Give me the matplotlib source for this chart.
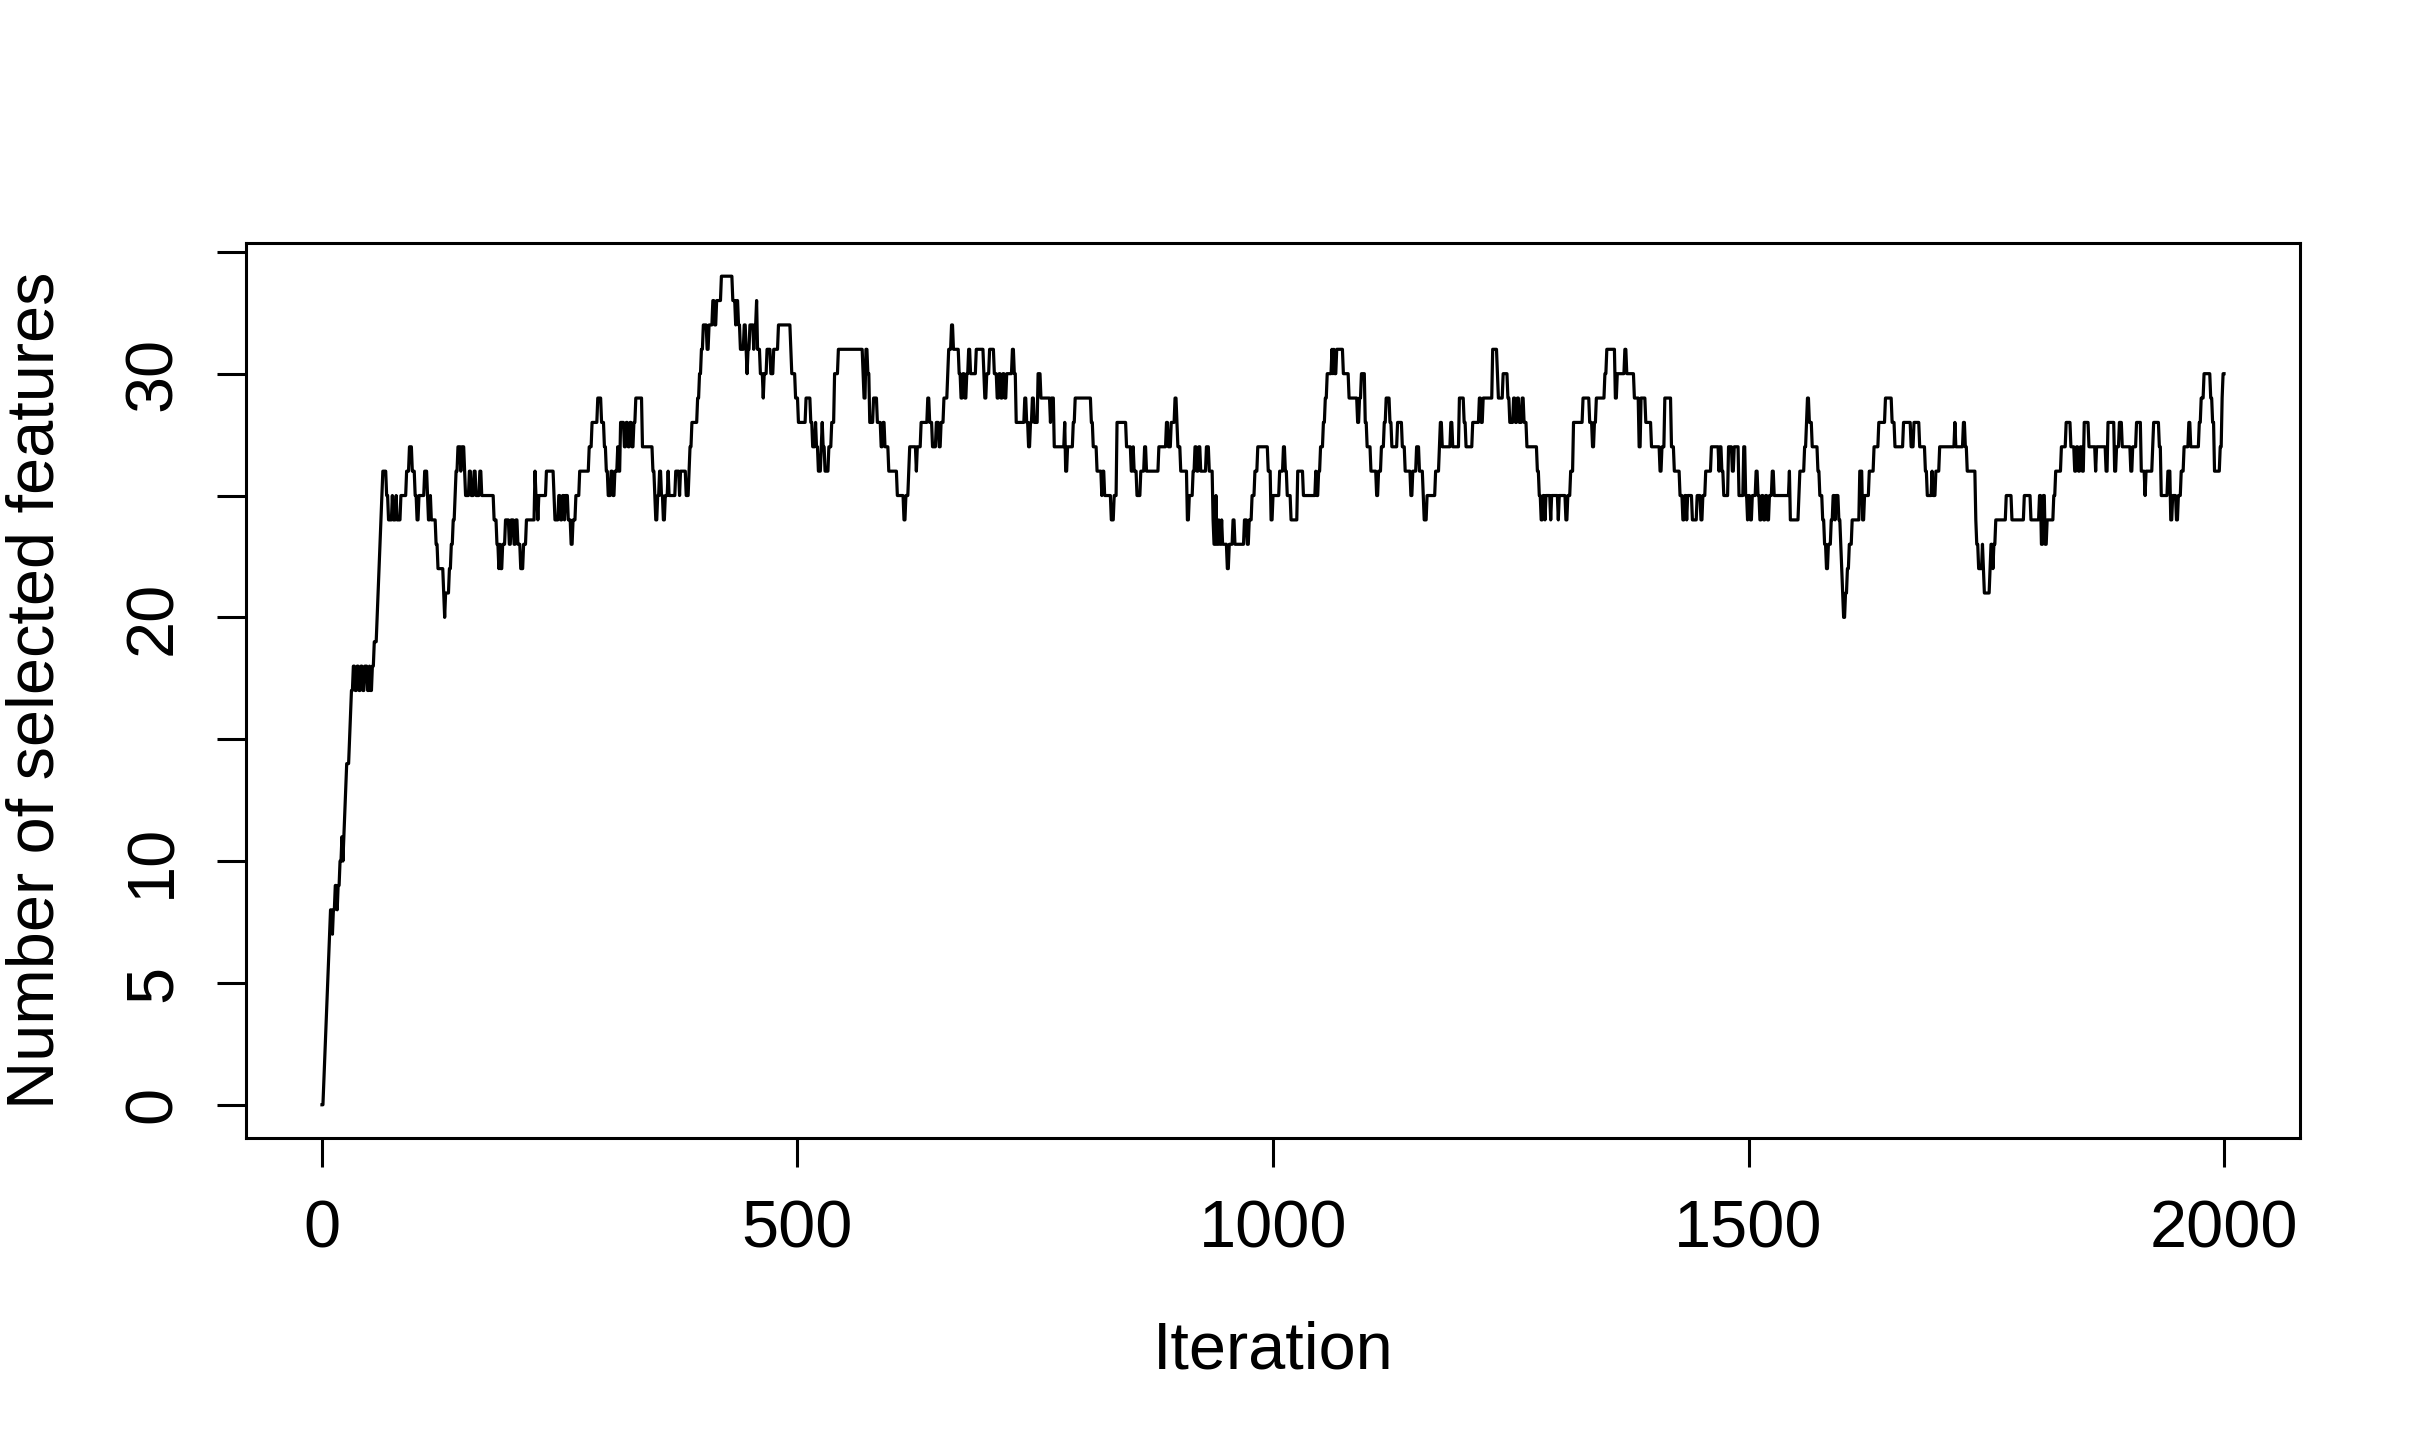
import numpy as np
import matplotlib
matplotlib.use("Agg")
import matplotlib.pyplot as plt

plt.rcParams["font.family"] = ["Liberation Sans", "DejaVu Sans"]

N_ITER = 2001

# iteration where a new value starts, and that value
change_iter = [
    0, 2, 3, 4, 5, 6, 7, 8, 9, 11, 12, 14, 16, 17, 19, 21, 22, 23, 24, 25,
    26, 29, 30, 31, 33, 35, 37, 39, 41, 43, 45, 48, 50, 51, 53, 55, 58, 59, 60, 61,
    62, 63, 64, 68, 70, 74, 75, 78, 79, 83, 89, 92, 95, 98, 100, 102, 108, 111, 112, 114,
    115, 120, 122, 128, 129, 130, 134, 136, 138, 140, 141, 143, 146, 147, 150, 151, 155, 157, 160, 162,
    166, 168, 181, 184, 186, 187, 188, 190, 193, 197, 199, 202, 204, 206, 209, 212, 215, 224, 225, 227,
    228, 236, 244, 245, 249, 251, 253, 255, 256, 259, 262, 264, 267, 271, 281, 284, 290, 294, 297, 299,
    301, 304, 306, 308, 311, 312, 314, 318, 320, 322, 324, 326, 328, 330, 337, 348, 350, 351, 353, 355,
    357, 359, 361, 364, 365, 372, 376, 377, 383, 386, 387, 389, 395, 397, 399, 401, 405, 407, 411, 413,
    415, 420, 432, 435, 436, 438, 440, 444, 446, 447, 448, 450, 454, 455, 457, 458, 461, 464, 465, 468,
    472, 475, 480, 493, 494, 498, 501, 509, 514, 516, 519, 520, 522, 525, 526, 527, 529, 533, 536, 539,
    543, 569, 570, 572, 574, 576, 580, 584, 588, 590, 592, 596, 605, 612, 614, 617, 618, 625, 626, 630,
    637, 639, 642, 646, 649, 651, 654, 658, 659, 662, 664, 670, 672, 674, 676, 678, 680, 682, 688, 696,
    697, 699, 702, 707, 710, 712, 714, 716, 718, 720, 726, 728, 730, 739, 741, 743, 745, 747, 749, 753,
    756, 766, 767, 770, 781, 782, 784, 790, 792, 809, 811, 815, 820, 821, 823, 830, 833, 836, 846, 851,
    853, 854, 857, 861, 865, 867, 880, 888, 890, 893, 897, 899, 900, 903, 910, 912, 916, 918, 920, 922,
    924, 930, 933, 937, 938, 940, 941, 943, 944, 946, 947, 952, 954, 958, 960, 970, 973, 975, 978, 981,
    984, 995, 998, 1000, 1007, 1011, 1013, 1015, 1019, 1026, 1032, 1045, 1046, 1048, 1050, 1053, 1055, 1057, 1062, 1063,
    1064, 1065, 1067, 1074, 1080, 1089, 1091, 1093, 1097, 1099, 1103, 1109, 1111, 1114, 1117, 1119, 1123, 1125, 1131, 1136,
    1139, 1145, 1147, 1151, 1154, 1158, 1159, 1162, 1171, 1175, 1176, 1178, 1187, 1189, 1196, 1201, 1203, 1210, 1217, 1219,
    1221, 1231, 1236, 1237, 1242, 1247, 1249, 1253, 1255, 1257, 1259, 1262, 1264, 1267, 1278, 1280, 1282, 1284, 1286, 1287,
    1292, 1293, 1300, 1301, 1308, 1310, 1313, 1316, 1326, 1333, 1336, 1338, 1340, 1349, 1351, 1360, 1362, 1370, 1372, 1380,
    1385, 1387, 1392, 1398, 1407, 1409, 1412, 1419, 1422, 1428, 1431, 1433, 1435, 1436, 1441, 1446, 1450, 1452, 1455, 1461,
    1469, 1470, 1472, 1474, 1479, 1483, 1485, 1490, 1495, 1497, 1499, 1500, 1502, 1504, 1508, 1510, 1512, 1514, 1516, 1518,
    1520, 1522, 1525, 1527, 1543, 1544, 1553, 1554, 1559, 1561, 1562, 1564, 1567, 1573, 1575, 1578, 1580, 1582, 1584, 1587,
    1589, 1591, 1592, 1595, 1597, 1598, 1599, 1600, 1602, 1604, 1606, 1609, 1617, 1620, 1622, 1627, 1632, 1637, 1644, 1651,
    1654, 1663, 1671, 1674, 1680, 1686, 1688, 1693, 1694, 1697, 1701, 1717, 1718, 1726, 1728, 1730, 1739, 1740, 1742, 1746,
    1747, 1748, 1754, 1755, 1757, 1758, 1760, 1771, 1777, 1790, 1797, 1806, 1808, 1810, 1812, 1814, 1821, 1823, 1829, 1834,
    1839, 1843, 1845, 1847, 1849, 1851, 1853, 1858, 1865, 1866, 1876, 1878, 1885, 1887, 1890, 1893, 1902, 1904, 1908, 1913,
    1917, 1918, 1925, 1926, 1932, 1934, 1941, 1944, 1946, 1950, 1952, 1955, 1958, 1963, 1965, 1974, 1976, 1979, 1986, 1988,
    1990, 1996, 1998, 1999,
]
change_value = [
    0, 1, 2, 3, 4, 5, 6, 7, 8, 7, 8, 9, 8, 9, 10, 11, 10, 11, 12, 13,
    14, 15, 16, 17, 18, 17, 18, 17, 18, 17, 18, 17, 18, 17, 18, 19, 20, 21, 22, 23,
    24, 25, 26, 25, 24, 25, 24, 25, 24, 25, 26, 27, 26, 25, 24, 25, 26, 25, 24, 25,
    24, 23, 22, 21, 20, 21, 22, 23, 24, 25, 26, 27, 26, 27, 26, 25, 26, 25, 26, 25,
    26, 25, 24, 23, 22, 23, 22, 23, 24, 23, 24, 23, 24, 23, 22, 23, 24, 26, 25, 24,
    25, 26, 25, 24, 25, 24, 25, 24, 25, 24, 23, 24, 25, 26, 27, 28, 29, 28, 27, 26,
    25, 26, 25, 26, 27, 26, 28, 27, 28, 27, 28, 27, 28, 29, 27, 26, 25, 24, 25, 26,
    25, 24, 25, 26, 25, 26, 25, 26, 25, 26, 27, 28, 29, 30, 31, 32, 31, 32, 33, 32,
    33, 34, 33, 32, 33, 32, 31, 32, 31, 30, 31, 32, 31, 32, 33, 31, 30, 29, 30, 31,
    30, 31, 32, 31, 30, 29, 28, 29, 28, 27, 28, 27, 26, 27, 28, 27, 26, 27, 28, 30,
    31, 30, 29, 31, 30, 28, 29, 28, 27, 28, 27, 26, 25, 24, 25, 26, 27, 26, 27, 28,
    29, 28, 27, 28, 27, 28, 29, 30, 31, 32, 31, 30, 29, 30, 29, 30, 31, 30, 31, 30,
    29, 30, 31, 30, 29, 30, 29, 30, 29, 30, 31, 30, 28, 29, 28, 27, 28, 29, 28, 30,
    29, 28, 29, 27, 28, 26, 27, 28, 29, 28, 27, 26, 25, 26, 25, 24, 25, 28, 27, 26,
    27, 26, 25, 26, 27, 26, 27, 28, 27, 28, 29, 28, 27, 26, 24, 25, 26, 27, 26, 27,
    26, 27, 26, 24, 23, 25, 23, 24, 23, 24, 23, 22, 23, 24, 23, 24, 23, 24, 25, 26,
    27, 26, 24, 25, 26, 27, 26, 25, 24, 26, 25, 26, 25, 26, 27, 28, 29, 30, 31, 30,
    31, 30, 31, 30, 29, 28, 29, 30, 28, 27, 26, 25, 26, 27, 28, 29, 28, 27, 28, 27,
    26, 25, 26, 27, 26, 25, 24, 25, 26, 27, 28, 27, 28, 27, 29, 28, 27, 28, 29, 28,
    29, 31, 30, 29, 30, 29, 28, 29, 28, 29, 28, 29, 28, 27, 26, 25, 24, 25, 24, 25,
    24, 25, 24, 25, 24, 25, 26, 28, 29, 28, 27, 28, 29, 30, 31, 29, 30, 31, 30, 29,
    27, 29, 28, 27, 26, 27, 29, 27, 26, 25, 24, 25, 24, 25, 24, 25, 24, 25, 26, 27,
    26, 27, 26, 25, 27, 26, 27, 25, 27, 25, 24, 25, 24, 25, 26, 25, 24, 25, 24, 25,
    24, 25, 26, 25, 26, 24, 25, 26, 27, 28, 29, 28, 27, 26, 25, 24, 23, 22, 23, 24,
    25, 24, 25, 24, 23, 22, 21, 20, 21, 22, 23, 24, 26, 24, 25, 26, 27, 28, 29, 28,
    27, 28, 27, 28, 27, 26, 25, 26, 25, 26, 27, 28, 27, 28, 27, 26, 24, 23, 22, 23,
    22, 21, 22, 23, 22, 23, 24, 25, 24, 25, 24, 25, 23, 25, 23, 24, 25, 26, 27, 28,
    27, 26, 27, 26, 27, 26, 28, 27, 26, 27, 26, 28, 26, 27, 28, 27, 26, 27, 28, 26,
    25, 26, 27, 28, 27, 25, 26, 24, 25, 24, 25, 26, 27, 28, 27, 28, 29, 30, 29, 28,
    26, 27, 29, 30,
]

x_ticks = [0, 500, 1000, 1500, 2000]
y_ticks = [0, 5, 10, 15, 20, 25, 30, 35]
y_tick_labels = ["0", "5", "10", "", "20", "", "30", ""]

# expand the runs into one value per iteration
run_lengths = np.diff(change_iter + [N_ITER])
n_selected = np.repeat(change_value, run_lengths)
iterations = np.arange(N_ITER)

fig = plt.figure(figsize=(24.25, 14.45), dpi=100)
ax = fig.add_axes([0.1014, 0.2125, 0.8471, 0.6193])

ax.plot(iterations, n_selected, color="black", linewidth=2.3)

ax.set_xlim(-80, 2080)
ax.set_ylim(-1.36, 35.36)
ax.set_xticks(x_ticks)
ax.set_xticklabels([str(t) for t in x_ticks])
ax.set_yticks(y_ticks)
ax.set_yticklabels(y_tick_labels, rotation=90, va="center")

for side in ax.spines.values():
    side.set_linewidth(2.2)
ax.tick_params(axis="both", direction="out", length=21, width=2.2,
               labelsize=48, pad=23)

ax.set_xlabel("Iteration", fontsize=48, labelpad=43)
ax.set_ylabel("Number of selected features", fontsize=48, labelpad=40)

fig.savefig("out.png", dpi=100)
plt.close(fig)
